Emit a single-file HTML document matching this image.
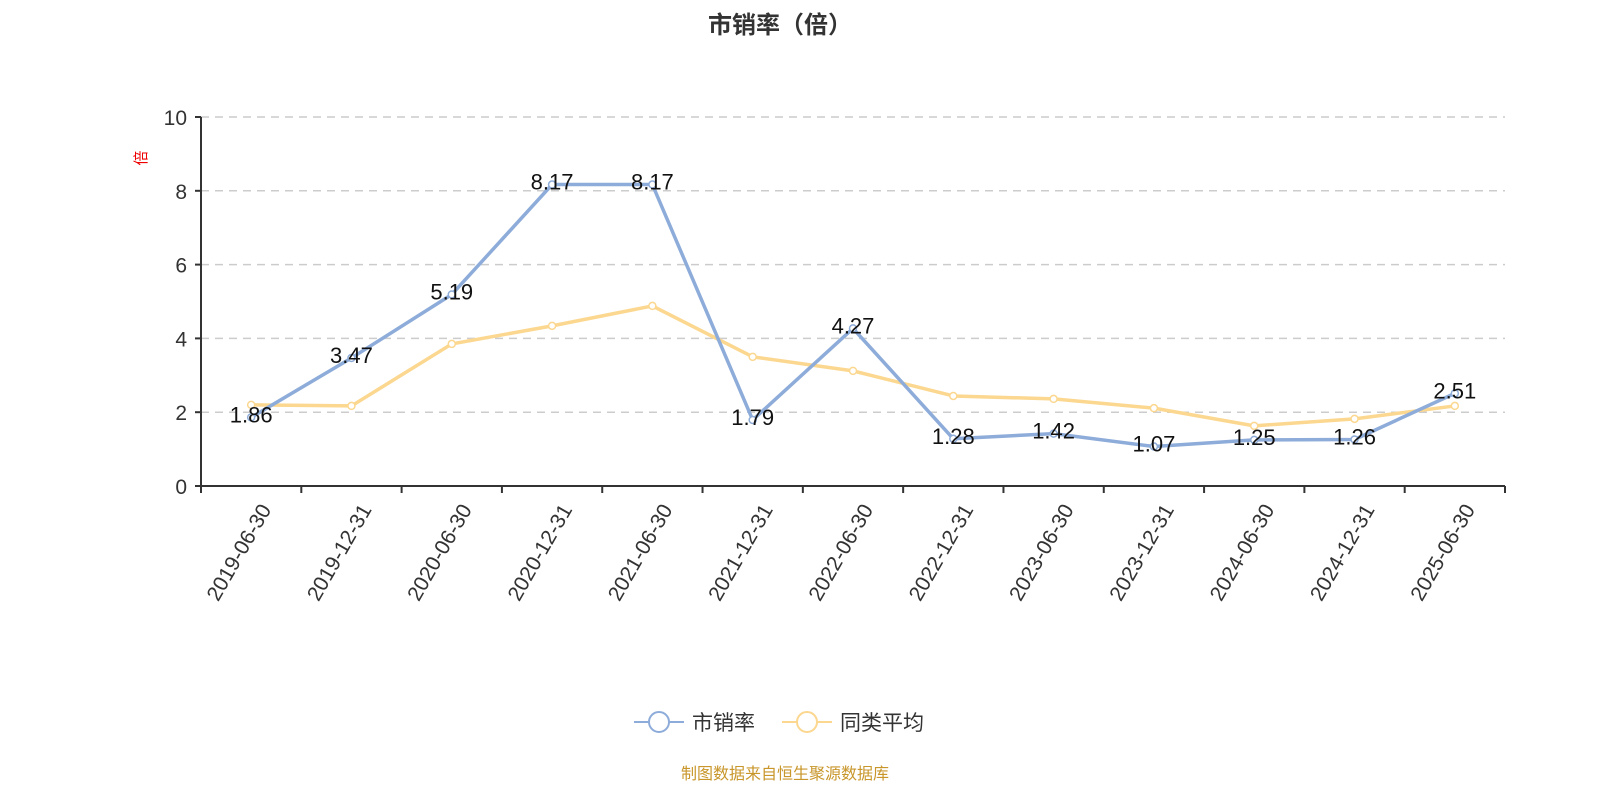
<!DOCTYPE html>
<html><head><meta charset="utf-8"><style>
body{margin:0;background:#fff;width:1600px;height:800px;overflow:hidden}
svg{font-family:"Liberation Sans","Noto Sans CJK SC",sans-serif}
</style></head><body>
<svg id="c" width="1600" height="800">
<text x="780" y="33" text-anchor="middle" font-size="24" font-weight="bold" fill="#333">市销率（倍）</text>
<text transform="translate(146,158) rotate(-90)" text-anchor="middle" font-size="15" fill="#e00">倍</text>
<g id="grid"></g><g id="axes"></g><g id="series"></g>
<g>
<g><line x1="634" y1="722" x2="684" y2="722" stroke="#8eacd9" stroke-width="2"/><circle cx="659" cy="722" r="10" fill="#fff" stroke="#8eacd9" stroke-width="2"/><text x="692" y="730" font-size="21" fill="#333">市销率</text></g>
<g><line x1="782" y1="722" x2="832" y2="722" stroke="#fbd78f" stroke-width="2"/><circle cx="807" cy="722" r="10" fill="#fff" stroke="#fbd78f" stroke-width="2"/><text x="840" y="730" font-size="21" fill="#333">同类平均</text></g>
</g>
<text x="785" y="779" text-anchor="middle" font-size="16" fill="#c8962a">制图数据来自恒生聚源数据库</text>
</svg>
<script>
const categories=["2019-06-30","2019-12-31","2020-06-30","2020-12-31","2021-06-30","2021-12-31","2022-06-30","2022-12-31","2023-06-30","2023-12-31","2024-06-30","2024-12-31","2025-06-30"];
const psrValues=[1.86,3.47,5.19,8.17,8.17,1.79,4.27,1.28,1.42,1.07,1.25,1.26,2.51];
const avgValues=[2.2,2.17,3.85,4.34,4.88,3.5,3.12,2.44,2.36,2.11,1.63,1.82,2.17];
const yTicks=[0,2,4,6,8,10];
const NS="http://www.w3.org/2000/svg";
const L=201,R=1505,T=117,B=486,yMax=10;
const bw=(R-L)/categories.length;
const xs=i=>L+bw*(i+0.5);
const ys=v=>B-(v/yMax)*(B-T);
function mk(tag,attrs,parent,text){const e=document.createElementNS(NS,tag);for(const k in attrs)e.setAttribute(k,attrs[k]);if(text!==undefined)e.textContent=text;document.getElementById(parent).appendChild(e);return e;}
yTicks.forEach(v=>{
  if(v>0){const g=mk('line',{x1:L,x2:R,y1:ys(v),y2:ys(v),stroke:'#ccc','stroke-dasharray':'8,6','stroke-width':1.5},'grid');
  
  }
  const t=mk('line',{x1:L-6,x2:L,y1:ys(v),y2:ys(v),stroke:'#333','stroke-width':2},'axes');
  
  
  const l=mk('text',{x:L-14,y:ys(v)+8,'text-anchor':'end','font-size':21,fill:'#333'},'axes',v);
  
  
});
const ya=mk('line',{x1:L,x2:L,y1:T,y2:B,stroke:'#333','stroke-width':2},'axes');


const xa=mk('line',{x1:L,x2:R,y1:B,y2:B,stroke:'#333','stroke-width':2},'axes');


for(let i=0;i<=categories.length;i++){
  const t=mk('line',{x1:L+bw*i,x2:L+bw*i,y1:B,y2:B+7,stroke:'#333','stroke-width':2},'axes');
  
  
}
categories.forEach((c,i)=>{
  const x=xs(i),y=B+16;
  const t=mk('text',{x:x+8,y:y,'text-anchor':'end','font-size':21,fill:'#333',transform:`rotate(-60 ${x+8} ${y})`,dy:'0.7em'},'axes',c);
  
  
});
function series(vals,color,name){
  const p=mk('polyline',{points:vals.map((v,i)=>xs(i)+','+ys(v)).join(' '),fill:'none',stroke:color,'stroke-width':3.5,'stroke-linejoin':'round'},'series');
  
  
  vals.forEach((v,i)=>{
    const c=mk('circle',{cx:xs(i),cy:ys(v),r:3.5,fill:'#fff',stroke:color,'stroke-width':1.5},'series');
    
    
  });
}
series(avgValues,'#fbd78f','average');
series(psrValues,'#8eacd9','psr');
psrValues.forEach((v,i)=>{
  const t=mk('text',{x:xs(i),y:ys(v)+5,'text-anchor':'middle','font-size':22,fill:'#111'},'series',v.toFixed(2));
  
  
});
</script>
</body></html>
